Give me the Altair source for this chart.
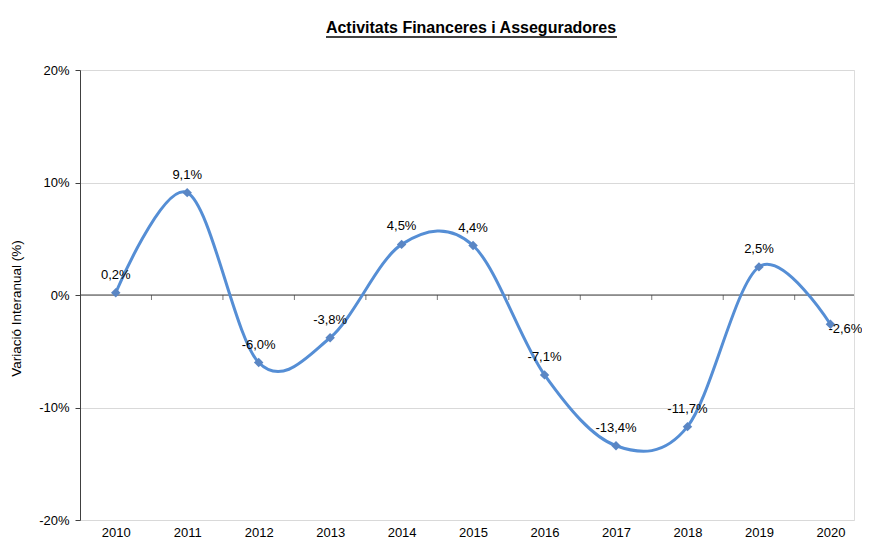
import altair as alt
import pandas as pd

TITLE = "Activitats Financeres i Asseguradores"
Y_TITLE = "Variació Interanual  (%)"
years = [2010, 2011, 2012, 2013, 2014, 2015, 2016, 2017, 2018, 2019, 2020]
values = [0.2, 9.1, -6.0, -3.8, 4.5, 4.4, -7.1, -13.4, -11.7, 2.5, -2.6]
y_ticks = [-20, -10, 0, 10, 20]

df = pd.DataFrame({
    "year": years,
    "value": values,
    "label": [f"{v:.1f}%".replace(".", ",") for v in values],
})
bounds = pd.DataFrame({"b": [y + 0.5 for y in years[:-1]]})

FONT = "Liberation Sans"
LINE_COLOR = "#558ED5"

x_scale = alt.Scale(domain=[years[0] - 0.5, years[-1] + 0.33], nice=False, zero=False)
y_scale = alt.Scale(domain=[-20, 20], nice=False)

x_enc = alt.X("year:Q", scale=x_scale,
              axis=alt.Axis(values=years, format="d", title=None, ticks=False,
                            domain=False, grid=False, labelFont=FONT, labelFontSize=13,
                            labelColor="#000000", labelPadding=6))
y_enc = alt.Y("value:Q", scale=y_scale,
              axis=alt.Axis(values=y_ticks, labelExpr="datum.value + '%'",
                            title=Y_TITLE, titleFont=FONT, titleFontSize=13.5,
                            titleFontWeight="normal", titleColor="#000000",
                            titlePadding=15, titleY=238, labelFont=FONT, labelFontSize=13,
                            labelColor="#000000", labelPadding=6,
                            tickSize=5, tickColor="#404040", domainColor="#404040",
                            grid=True, gridColor="#D9D9D9", gridWidth=1))

base = alt.Chart(df)

line = base.mark_line(interpolate="cardinal", color=LINE_COLOR, strokeWidth=3).encode(
    x=x_enc, y=y_enc)

zero = alt.Chart(pd.DataFrame({"z": [0]})).mark_rule(color="#404040", strokeWidth=1).encode(
    y=alt.Y("z:Q", scale=y_scale))

zticks = alt.Chart(bounds).mark_tick(color="#404040", thickness=1, size=5, yOffset=2.5,
                                     orient="vertical").encode(
    x=alt.X("b:Q", scale=x_scale), y=alt.datum(0, scale=y_scale))

points = base.mark_point(shape="diamond", filled=True, color="#5A86C4", size=90, opacity=1).encode(
    x=alt.X("year:Q", scale=x_scale), y=alt.Y("value:Q", scale=y_scale))

labels = base.transform_filter(alt.datum.year != years[-1]).mark_text(
    font=FONT, fontSize=13, color="#000000", dy=-18, align="center").encode(
    x=alt.X("year:Q", scale=x_scale), y=alt.Y("value:Q", scale=y_scale), text="label:N")

label_last = base.transform_filter(alt.datum.year == years[-1]).mark_text(
    font=FONT, fontSize=13, color="#000000", dy=5, dx=-2, align="left").encode(
    x=alt.X("year:Q", scale=x_scale), y=alt.Y("value:Q", scale=y_scale), text="label:N")

title = alt.Chart(pd.DataFrame({"t": [TITLE]})).mark_text(
    font=FONT, fontSize=16, fontWeight="bold", color="#000000", align="center",
    baseline="alphabetic").encode(x=alt.value(391), y=alt.value(-37), text="t:N")

underline = alt.Chart(pd.DataFrame({"t": [TITLE]})).mark_rule(
    color="#000000", strokeWidth=1.5).encode(
    x=alt.value(246), x2=alt.value(537), y=alt.value(-33))

chart = alt.layer(zero, zticks, line, points, labels, label_last, title, underline).properties(
    width=774, height=450,
    autosize=alt.AutoSizeParams(type="none"),
    padding={"left": 72, "top": 62, "right": 8, "bottom": 20},
).configure_view(stroke=None).configure(background="#FFFFFF")

chart.save("out.html", embed_options={"renderer": "svg", "actions": False})
